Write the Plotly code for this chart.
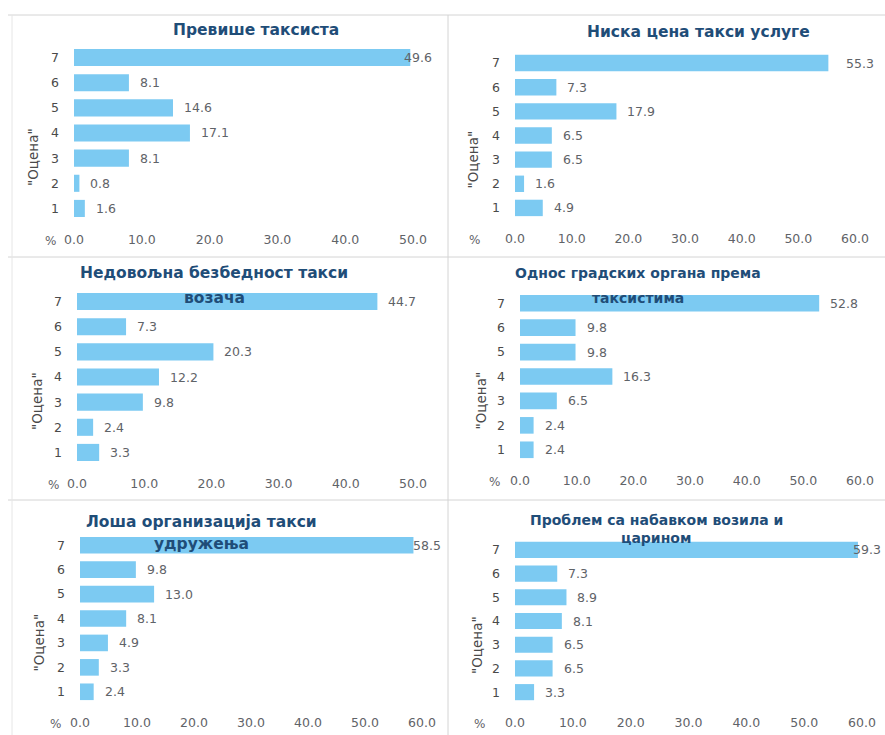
import plotly.graph_objects as go

# ---------------- data ----------------
grades = [1, 2, 3, 4, 5, 6, 7]

title_1 = ["Превише таксиста"]
title_2 = ["Ниска цена такси услуге"]
title_3 = ["Недовољна безбедност такси", "возача"]
title_4 = ["Однос градских органа према", "таксистима"]
title_5 = ["Лоша организација такси", "удружења"]
title_6 = ["Проблем са набавком возила и", "царином"]

vals_1 = [1.6, 0.8, 8.1, 17.1, 14.6, 8.1, 49.6]
vals_2 = [4.9, 1.6, 6.5, 6.5, 17.9, 7.3, 55.3]
vals_3 = [3.3, 2.4, 9.8, 12.2, 20.3, 7.3, 44.7]
vals_4 = [2.4, 2.4, 6.5, 16.3, 9.8, 9.8, 52.8]
vals_5 = [2.4, 3.3, 4.9, 8.1, 13.0, 9.8, 58.5]
vals_6 = [3.3, 6.5, 6.5, 8.1, 8.9, 7.3, 59.3]

xmax_1, xmax_2, xmax_3, xmax_4, xmax_5, xmax_6 = 50, 60, 50, 60, 60, 60

y_axis_title = '"Оцена"'
x_axis_unit = "%"

# ---------------- layout geometry (pixels) ----------------
W, H = 885, 735
BAR = "#7ccaf2"
TITLE_C = "#1f4d78"
TEXT_C = "#5f6368"
TICK_C = "#4a4a4a"
FONT = "DejaVu Sans, Arial, sans-serif"

panels = [
    dict(v=vals_1, t=title_1, xm=xmax_1, xp=(74, 413), yp=(45, 221), ty=(30, 55), tx=256, ts=15.5, yt=33, pc=50),
    dict(v=vals_2, t=title_2, xm=xmax_2, xp=(515, 855), yp=(51, 220), ty=(32, 57), tx=698, ts=15.5, yt=473, pc=474),
    dict(v=vals_3, t=title_3, xm=xmax_3, xp=(77, 413), yp=(289, 465), ty=(273, 298), tx=214, ts=15.5, yt=37, pc=53),
    dict(v=vals_4, t=title_4, xm=xmax_4, xp=(520, 860), yp=(291, 462), ty=(273, 298), tx=638, ts=14, yt=480, pc=494),
    dict(v=vals_5, t=title_5, xm=xmax_5, xp=(80, 422), yp=(533, 704), ty=(522, 544), tx=201, ts=15.5, yt=38, pc=55),
    dict(v=vals_6, t=title_6, xm=xmax_6, xp=(515, 862), yp=(538, 704), ty=(520, 538), tx=656, ts=14, yt=477, pc=479),
]

def px(x):
    return x / W

def py(y):
    return 1 - y / H

fig = go.Figure()
annotations = []

for i, p in enumerate(panels, start=1):
    xa = "x" if i == 1 else f"x{i}"
    ya = "y" if i == 1 else f"y{i}"
    fig.add_trace(go.Bar(
        x=p["v"], y=grades, orientation="h",
        marker=dict(color=BAR, line=dict(width=0)),
        width=0.68,
        xaxis=xa, yaxis=ya, showlegend=False,
        hoverinfo="x+y",
    ))
    xkey = "xaxis" if i == 1 else f"xaxis{i}"
    ykey = "yaxis" if i == 1 else f"yaxis{i}"
    fig.layout[xkey] = dict(
        domain=[px(p["xp"][0]), px(p["xp"][1])],
        range=[0, p["xm"]], dtick=10, tick0=0, tickformat=".1f",
        showgrid=False, zeroline=False, showline=False,
        ticks="", ticklabelstandoff=9,
        tickfont=dict(color=TEXT_C, size=12.5, family=FONT),
        anchor=ya, fixedrange=True, automargin=False,
    )
    fig.layout[ykey] = dict(
        domain=[py(p["yp"][1]), py(p["yp"][0])],
        range=[0.5, 7.5], tickmode="array", tickvals=grades,
        showgrid=False, zeroline=False, showline=False,
        ticks="", ticklabelstandoff=14,
        tickfont=dict(color=TICK_C, size=12.5, family=FONT),
        anchor=xa, fixedrange=True, automargin=False,
    )
    # value labels (kept inside the panel like the original)
    for g, v in zip(grades, p["v"]):
        near_end = v > p["xm"] * 0.9
        annotations.append(dict(
            text=f"{v:.1f}", x=(p["xm"] if near_end else v), y=g, xref=xa, yref=ya,
            xanchor=("right" if near_end else "left"), xshift=(21 if near_end else 9),
            yanchor="middle", showarrow=False,
            font=dict(color=TEXT_C, size=12.5, family=FONT),
        ))
    # titles
    for line, yy in zip(p["t"], p["ty"]):
        annotations.append(dict(
            text=f"<b>{line}</b>", x=px(p["tx"]), y=py(yy), xref="paper", yref="paper",
            xanchor="center", yanchor="middle", showarrow=False,
            font=dict(color=TITLE_C, size=p["ts"], family=FONT),
        ))
    # y axis title
    ymid = (p["yp"][0] + p["yp"][1]) / 2 + 24
    annotations.append(dict(
        text=y_axis_title, x=px(p["yt"]), y=py(ymid), xref="paper", yref="paper",
        xanchor="center", yanchor="middle", textangle=-90, showarrow=False,
        font=dict(color=TICK_C, size=13.5, family=FONT),
    ))
    # % unit left of the x axis
    annotations.append(dict(
        text=x_axis_unit, x=px(p["pc"]), y=py(p["yp"][1] + 20), xref="paper", yref="paper",
        xanchor="center", yanchor="middle", showarrow=False,
        font=dict(color=TEXT_C, size=12, family=FONT),
    ))

# separator lines
LINE = "#d4d4d4"
shapes = [
    dict(type="line", xref="paper", yref="paper", x0=px(8), x1=1, y0=py(15), y1=py(15), line=dict(color=LINE, width=1)),
    dict(type="line", xref="paper", yref="paper", x0=px(8), x1=1, y0=py(257), y1=py(257), line=dict(color=LINE, width=1)),
    dict(type="line", xref="paper", yref="paper", x0=px(8), x1=1, y0=py(500), y1=py(500), line=dict(color=LINE, width=1)),
    dict(type="line", xref="paper", yref="paper", x0=px(448), x1=px(448), y0=py(15), y1=0, line=dict(color=LINE, width=1)),
    dict(type="line", xref="paper", yref="paper", x0=px(12), x1=px(12), y0=py(15), y1=0, line=dict(color="#e6e6e6", width=1)),
]

fig.update_layout(
    width=W, height=H,
    margin=dict(l=0, r=0, t=0, b=0, autoexpand=False),
    paper_bgcolor="white", plot_bgcolor="white",
    annotations=annotations, shapes=shapes,
    font=dict(family=FONT),
)

fig.write_html(
    "out.html",
    config={"displayModeBar": False},
    post_script="document.body.style.margin='0';document.body.style.overflow='hidden';",
)
